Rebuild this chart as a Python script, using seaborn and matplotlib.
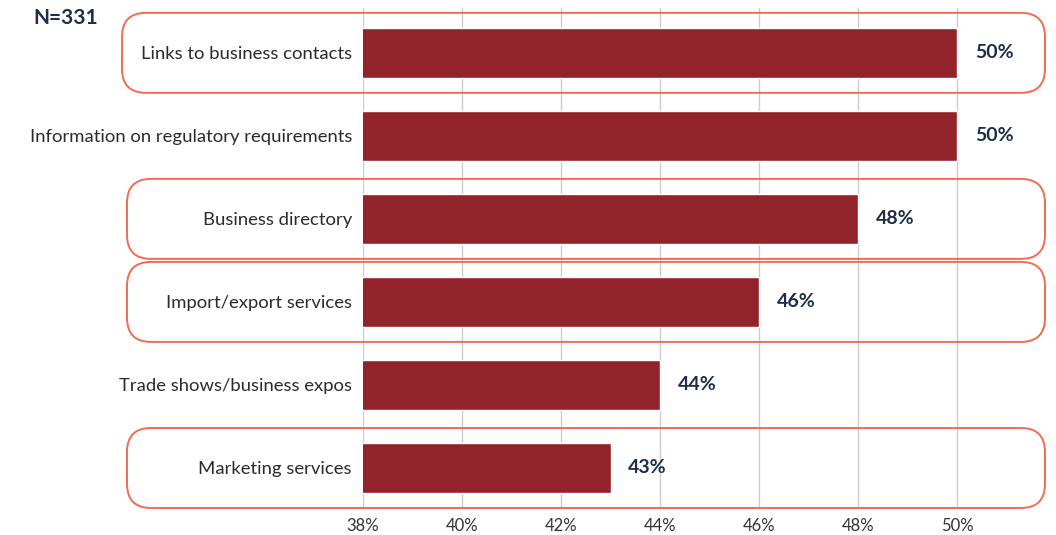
import numpy as np
import pandas as pd
import matplotlib.pyplot as plt
import seaborn as sns
from matplotlib.patches import FancyBboxPatch
from matplotlib.transforms import IdentityTransform

#--------------------Data-----------------------
services = ["Links to business contacts",
            "Information on regulatory requirements",
            "Business directory",
            "Import/export services",
            "Trade shows/business expos",
            "Marketing services"]
share = [50, 50, 48, 46, 44, 43]
highlighted = [0, 2, 3, 5]
x_ticks = [38, 40, 42, 44, 46, 48, 50]
sample_note = "N=331"

df = pd.DataFrame({"service": services, "share": share})

#--------------------Plot-----------------------
sns.set_style("white")
plt.rcParams['font.family'] = ['Lato', 'DejaVu Sans']

fig = plt.figure(figsize=(10.56, 5.35), dpi=100)
ax = fig.add_axes([363/1056, 28/535, 693/1056, 499/535])

sns.barplot(data=df, x="share", y="service", orient="h", color="#93232B",
            saturation=1, width=0.6, ax=ax, zorder=3)

ax.set_xlim(38, 52)
ax.set_ylim(5.47, -0.54)
ax.set_xticks(x_ticks)
ax.set_xticklabels([f"{t}%" for t in x_ticks], fontsize=12, color="#333333")
ax.tick_params(axis="x", length=0, pad=8)
ax.tick_params(axis="y", length=0, pad=8, labelsize=13.3, labelcolor="#2b2b2b")
ax.set_xlabel("")
ax.set_ylabel("")
ax.grid(axis="x", color="#cccccc", lw=1, zorder=0)
for s in ax.spines.values():
    s.set_visible(False)

# value labels
for i, v in enumerate(share):
    ax.text(v + 0.36, i, f"{v}%", va="center", ha="left", fontsize=14,
            fontweight="bold", color="#1F2D4A")

# rounded highlight boxes (pixel space)
for i in highlighted:
    left_px = 122 if i == 0 else 127
    _, yc = ax.transData.transform((40, i))
    h = 80
    box = FancyBboxPatch((left_px, yc - h/2), 1045 - left_px, h,
                         boxstyle="round,pad=0,rounding_size=24",
                         transform=IdentityTransform(), fill=False,
                         ec="#F46A55", lw=1.4, zorder=5)
    fig.add_artist(box)

fig.text(33/1056, 1 - 18/535, sample_note, fontsize=15, fontweight="bold",
         color="#1F2D4A", va="center", ha="left")

plt.savefig("out.png", dpi=100)
